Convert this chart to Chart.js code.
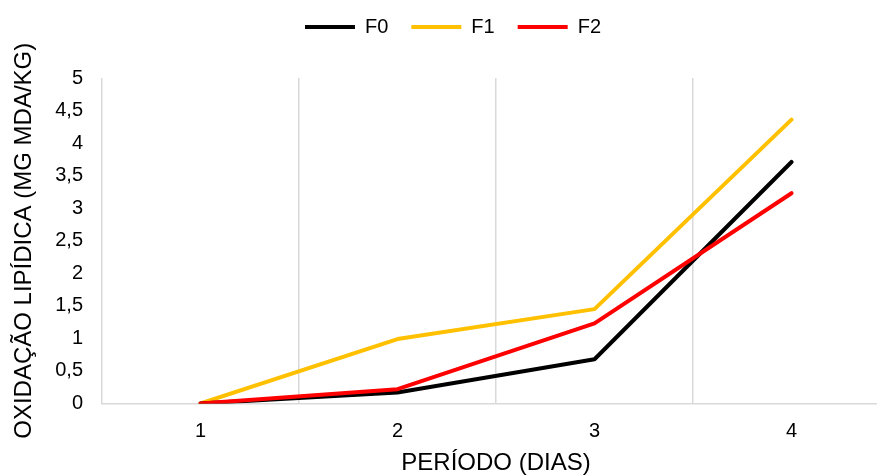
<!DOCTYPE html>
<html>
<head>
<meta charset="utf-8">
<script src="https://cdn.jsdelivr.net/npm/chart.js@4/dist/chart.umd.min.js"></script>
<style>
  html, body { margin: 0; padding: 0; background: #fff; overflow: hidden; width: 877px; height: 475px; }
  #wrap { width: 906px; height: 475px; }
</style>
</head>
<body>
<div id="wrap"><canvas id="chart" width="906" height="475"></canvas></div>
<script>
// Período (dias) on the x axis
const categories = ['1', '2', '3', '4'];
// Oxidação lipídica (mg MDA/kg) per formulation
const seriesF0 = [0, 0.17, 0.68, 3.71];
const seriesF1 = [0, 0.99, 1.45, 4.36];
const seriesF2 = [0, 0.22, 1.23, 3.23];
// y axis range and step
const yMin = 0, yMax = 5, yStep = 0.5;

const FONT = "'Liberation Sans', Arial, sans-serif";
const GRID = '#d9d9d9';

// Give the legend a fixed height so the plot starts at the right place
const legendHeight = {
  id: 'legendHeight',
  beforeInit(chart) {
    const fit = chart.legend.fit;
    chart.legend.fit = function () {
      fit.call(this);
      this.height = 84;
    };
  }
};

function line(label, data, color, order) {
  return {
    label, data, order,
    borderColor: color,
    backgroundColor: color,
    borderWidth: 4,
    borderCapStyle: 'round',
    borderJoinStyle: 'round',
    pointRadius: 0,
    pointHoverRadius: 0,
    tension: 0,
    fill: false,
    pointStyle: 'line'
  };
}

new Chart(document.getElementById('chart'), {
  type: 'line',
  data: {
    labels: categories,
    datasets: [
      line('F0', seriesF0, '#000000', 1),
      line('F1', seriesF1, '#FFC000', 2),
      line('F2', seriesF2, '#FF0000', 0)
    ]
  },
  options: {
    responsive: false,
    animation: false,
    devicePixelRatio: 1,
    layout: { padding: { top: -6, left: 0, right: 0, bottom: 0 } },
    plugins: {
      tooltip: { enabled: false },
      legend: {
        position: 'top',
        labels: {
          usePointStyle: true,
          pointStyle: 'line',
          pointStyleWidth: 50,
          padding: 23,
          color: '#000',
          font: { family: FONT, size: 20 },
          sort: (a, b) => a.datasetIndex - b.datasetIndex
        }
      }
    },
    scales: {
      x: {
        offset: true,
        grid: { display: true, offset: true, color: GRID, lineWidth: 1.5, drawTicks: false },
        border: { display: true, color: GRID, width: 1.5 },
        ticks: { color: '#000', font: { family: FONT, size: 20 }, padding: 16, maxRotation: 0 },
        title: {
          display: true, text: 'PERÍODO (DIAS)', color: '#000',
          font: { family: FONT, size: 24, lineHeight: 1 }, padding: { top: 0, bottom: 0 }
        },
        afterFit(s) { s.height = 71.5; }
      },
      y: {
        min: yMin, max: yMax,
        grid: { display: false, drawTicks: false },
        border: { display: false },
        ticks: {
          stepSize: yStep, color: '#000', padding: 19,
          font: { family: FONT, size: 20 },
          callback: v => String(v).replace('.', ',')
        },
        title: {
          display: true, text: 'OXIDAÇÃO LIPÍDICA (MG MDA/KG)', color: '#000',
          font: { family: FONT, size: 24, lineHeight: 1 }, padding: { top: 12, bottom: 0 }
        },
        afterFit(s) { s.width = 102; }
      },
      // empty right-hand axis that keeps the plot clear of the canvas edge
      yRight: {
        position: 'right', display: true,
        grid: { display: false, drawTicks: false },
        border: { display: false },
        ticks: { display: false },
        afterFit(s) { s.width = 16; }
      }
    }
  },
  plugins: [legendHeight]
});
</script>
</body>
</html>
